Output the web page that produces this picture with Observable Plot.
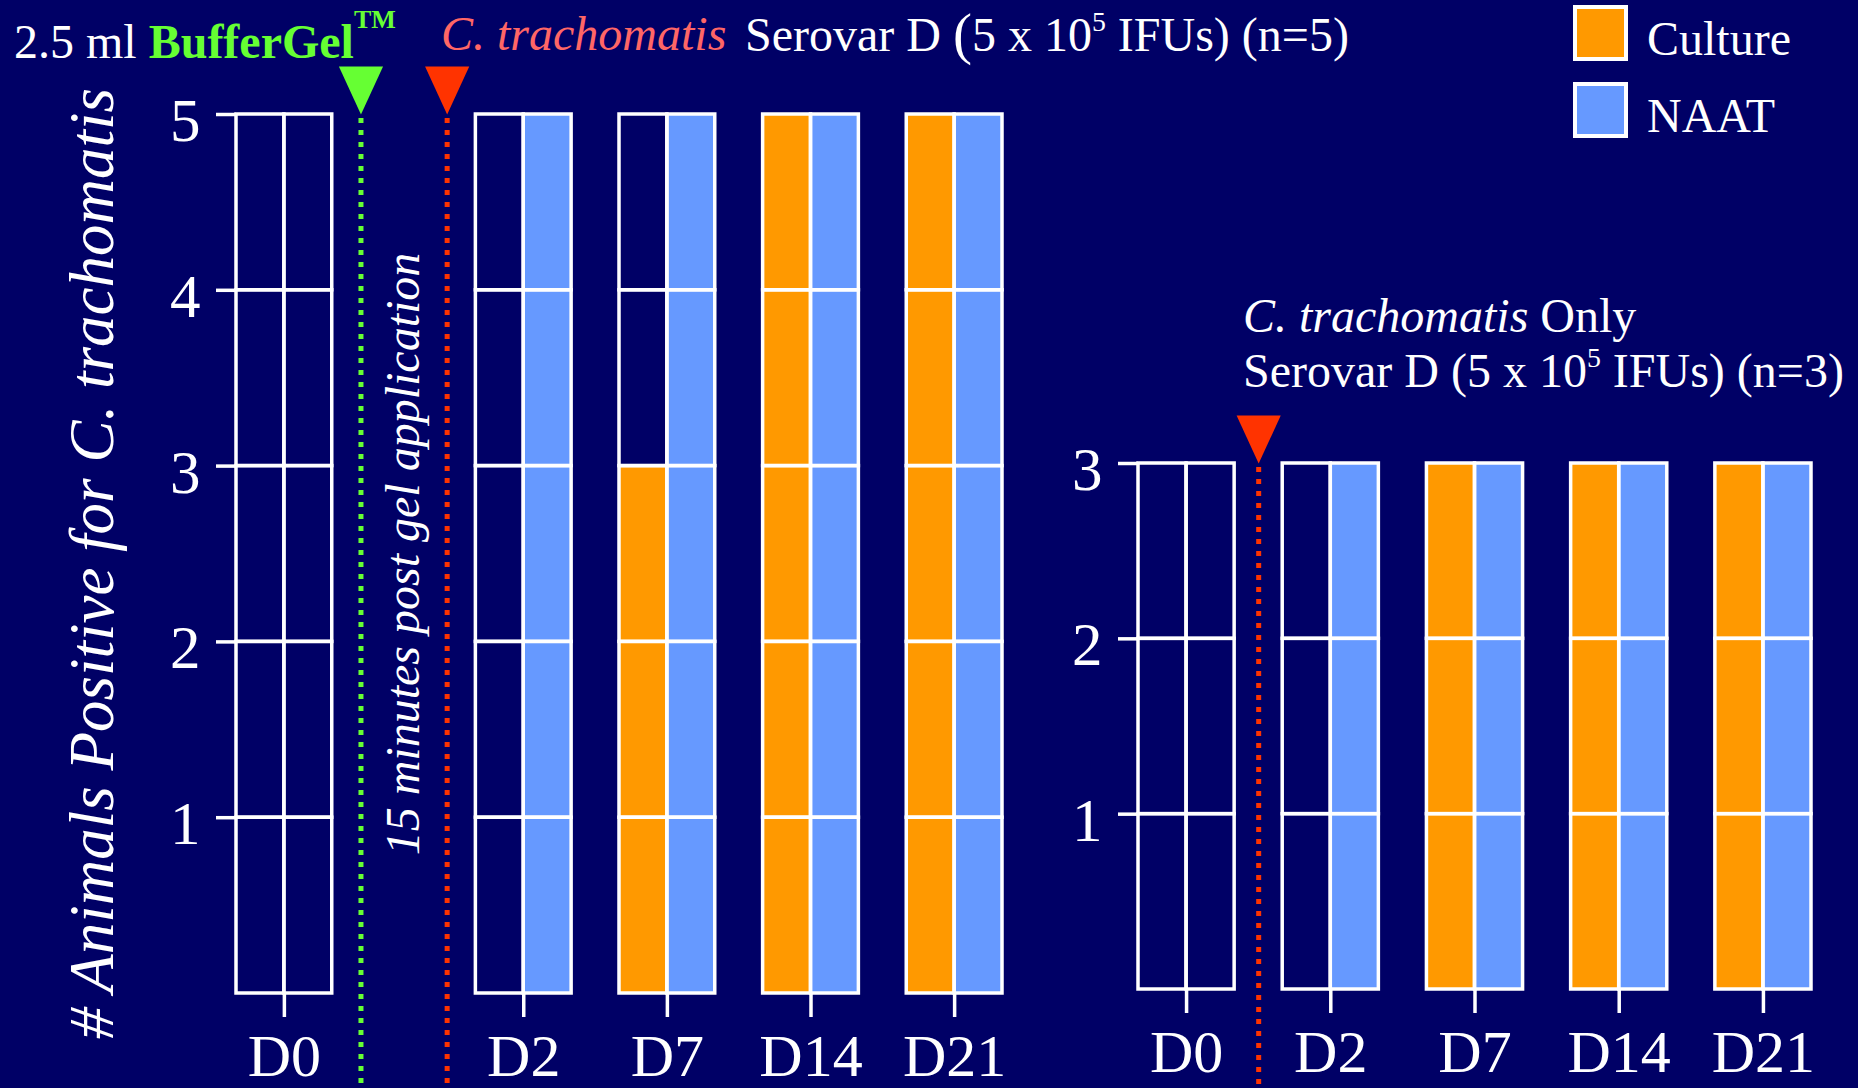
<!DOCTYPE html>
<html><head><meta charset="utf-8">
<script src="https://cdn.jsdelivr.net/npm/d3@7"></script>
<script src="https://cdn.jsdelivr.net/npm/@observablehq/plot@0.6"></script>
<style>
html,body{margin:0;padding:0;background:#000066;}
#stage{position:relative;width:1858px;height:1088px;overflow:hidden;background:#000066;font-family:"Liberation Serif","Times New Roman",serif;color:#fff;}
.t{position:absolute;white-space:nowrap;line-height:1;}
.sup{font-size:0.58em;position:relative;top:-0.72em;line-height:0;}
.plot{position:absolute;top:0;}
.box{position:absolute;width:55px;height:56px;border:4px solid #fff;box-sizing:border-box;}
</style></head><body><div id="stage"></div>
<script>
// ---- data ----
const days = ["D0", "D2", "D7", "D14", "D21"];
const methods = ["Culture", "NAAT"];
// BufferGel + C. trachomatis (n=5)
const gelCulture = [0, 0, 3, 5, 5];
const gelNaat    = [0, 5, 5, 5, 5];
const gelN = 5;
// C. trachomatis only (n=3)
const onlyCulture = [0, 0, 3, 3, 3];
const onlyNaat    = [0, 3, 3, 3, 3];
const onlyN = 3;
const gelYTicks = [1, 2, 3, 4, 5];
const onlyYTicks = [1, 2, 3];

// ---- styles ----
const ORANGE = "#FF9900", BLUE = "#6699FF", WHITE = "#FFFFFF";
const GREEN = "#66FF33", RED = "#FF3300", SALMON = "#FF6666";
const FONT = "Liberation Serif, Times New Roman, serif";

const stage = document.getElementById("stage");

// column layout: each day = 2 columns, 1 empty column between days,
// `gap` empty columns after D0 for the event markers
function starts(gap) { return days.map((d, i) => i === 0 ? 0 : 2 + gap + 3 * (i - 1)); }
function buildCells(culture, naat, n, st) {
  const cells = [];
  days.forEach((day, i) => {
    [culture[i], naat[i]].forEach((count, j) => {
      for (let k = 0; k < n; k++) cells.push({day, method: methods[j], col: st[i] + j, k, positive: k < count});
    });
  });
  return cells;
}
const downTriangle = {
  draw(ctx, size) {
    const r = Math.sqrt(size / Math.PI);
    const h = 2 * r, w = 1.84 * r;
    ctx.moveTo(-w / 2, -h); ctx.lineTo(w / 2, -h); ctx.lineTo(0, 0); ctx.closePath();
  }
};

function panel({culture, naat, n, yTicks, gap, events, width, marginLeft, marginRight, marginTop, marginBottom, extra = []}) {
  const st = starts(gap);
  const cells = buildCells(culture, naat, n, st);
  const nCols = st[st.length - 1] + 2;
  const tickCols = st.map(s => s + 1);
  const marks = [
    Plot.rect(cells.filter(c => c.positive), {x1: "col", x2: c => c.col + 1, y1: "k", y2: c => c.k + 1, fill: "method"}),
    Plot.rect(cells, {x1: "col", x2: c => c.col + 1, y1: "k", y2: c => c.k + 1, fill: "none", stroke: WHITE, strokeWidth: 3.5}),
    Plot.axisY({ticks: yTicks, tickSize: 20, tickFormat: () => "", label: null, stroke: WHITE, strokeWidth: 3.5}),
    Plot.text(yTicks, {y: d => d, frameAnchor: "left", textAnchor: "end", dx: -36, dy: 7, text: d => String(d), fontSize: 61, fill: WHITE}),
    Plot.axisX({ticks: tickCols, tickFormat: d => days[tickCols.indexOf(d)], label: null, tickSize: 24, tickPadding: 16, fontSize: 60, stroke: WHITE, fill: WHITE, strokeWidth: 3.5}),
  ];
  for (const ev of events) {
    marks.push(Plot.ruleX([ev.col], {x: d => d, y1: n, y2: 0, stroke: ev.color, strokeWidth: 5, strokeDasharray: "5 7", insetTop: 4, insetBottom: -marginBottom}));
    marks.push(Plot.dot([ev.col], {x: d => d, y: () => n, symbol: downTriangle, r: 24, fill: ev.color, stroke: "none"}));
  }
  return Plot.plot({
    width, height: 1088, marginLeft, marginRight, marginTop, marginBottom,
    x: {domain: [0, nCols], axis: null, label: null},
    y: {domain: [0, n], axis: null, label: null},
    color: {domain: methods, range: [ORANGE, BLUE]},
    style: {background: "transparent", color: WHITE, fontFamily: FONT, overflow: "visible"},
    marks: marks.concat(extra)
  });
}

const left = panel({
  culture: gelCulture, naat: gelNaat, n: gelN, yTicks: gelYTicks, gap: 3,
  events: [{col: 2.6, color: GREEN}, {col: 4.4, color: RED}],
  width: 1040, marginLeft: 236, marginRight: 38, marginTop: 114, marginBottom: 95,
  extra: [Plot.text(["15 minutes post gel application"], {x: () => 3.5, y: () => 2.5, text: d => d, rotate: -90, fontSize: 48, fontStyle: "italic", fill: WHITE})]
});
left.classList.add("plot"); left.style.left = "0px";
stage.appendChild(left);

const right = panel({
  culture: onlyCulture, naat: onlyNaat, n: onlyN, yTicks: onlyYTicks, gap: 1,
  events: [{col: 2.5, color: RED}],
  width: 818, marginLeft: 98, marginRight: 47, marginTop: 463, marginBottom: 99
});
right.classList.add("plot"); right.style.left = "1040px";
stage.appendChild(right);

// ---- text ----
function place(html, x, baseline, size, css = "") {
  const d = document.createElement("div");
  d.className = "t";
  d.style.cssText = `left:${x}px;top:${baseline - 0.8375 * size}px;font-size:${size}px;${css}`;
  d.innerHTML = html;
  stage.appendChild(d);
  return d;
}
place(`2.5 ml <b style="color:${GREEN}">BufferGel<span style="font-size:26px;position:relative;top:-30px;line-height:0">TM</span></b>`, 14, 58, 48);
place(`<i style="color:${SALMON}">C. trachomatis</i>`, 441, 50, 48);
place(`Serovar D <span style="font-size:57px;line-height:0;position:relative;top:2px">(</span>5 x 10<span class="sup">5</span> IFUs) (n=5)`, 745, 51, 48);
place(`<i>C. trachomatis</i> Only`, 1243, 332, 48);
place(`Serovar D (5 x 10<span class="sup">5</span> IFUs) (n=3)`, 1243, 387, 48);

// y-axis title
const yt = document.createElement("div");
yt.className = "t";
yt.style.cssText = `left:${92 - 550}px;top:${563 - 31.5}px;width:1100px;height:63px;text-align:center;font-size:63px;font-style:italic;transform:rotate(-90deg);transform-origin:50% 50%;`;
yt.textContent = "# Animals Positive for C. trachomatis";
stage.appendChild(yt);

// legend
const legendItems = [{label: methods[0], color: ORANGE, top: 5}, {label: methods[1], color: BLUE, top: 82}];
for (const it of legendItems) {
  const b = document.createElement("div");
  b.className = "box";
  b.style.left = "1573px"; b.style.top = it.top + "px"; b.style.background = it.color;
  stage.appendChild(b);
  place(it.label, 1647, it.top + 50, 48);
}
</script></body></html>
